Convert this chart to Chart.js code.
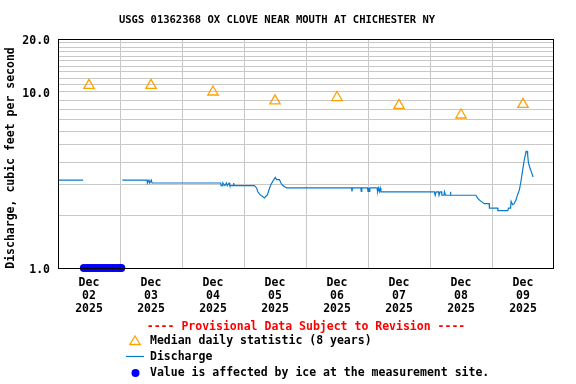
<!DOCTYPE html>
<html>
<head>
<meta charset="utf-8">
<script src="https://cdn.jsdelivr.net/npm/chart.js@4"></script>
<style>
  html, body { margin: 0; padding: 0; background: #fff; }
  canvas { display: block; }
</style>
</head>
<body>
<canvas id="grafico" width="576" height="384"></canvas>
<script>
// Dados (horas desde 02 Dec 2025 00:00)
const tituloGrafico = 'USGS 01362368 OX CLOVE NEAR MOUTH AT CHICHESTER NY';
const diasLabels = ['02', '03', '04', '05', '06', '07', '08', '09'];
const mesLabel = 'Dec';
const anoLabel = '2025';

// Mediana diária (8 anos), uma por dia
const medianas = [10.9, 10.9, 10.0, 8.9, 9.3, 8.4, 7.4, 8.5];

// Vazão (cfs)
const vazaoHoras = [
    0, 9.75, 17, 24.9, 34.5, 34.6, 35.2, 35.5, 36.1, 36.4, 37.0,
    63.0, 63.1, 63.6, 63.8, 64.6, 65.2, 65.5, 66.2, 66.5, 67.8, 68.0, 68.2,
    76.0, 76.9, 77.3, 78.2, 79.2, 79.9, 81.1, 81.7, 82.4, 83.1, 84.1, 84.6, 85.7, 86.3, 87.0, 88.5,
    113.6, 113.8, 114.0, 117.2, 117.4, 117.6, 119.8, 120.0, 120.3, 120.5, 120.7, 123.5, 123.7, 124.0, 124.4, 124.7, 125.0,
    145.7, 146.0, 146.4, 147.3, 147.5, 147.9, 148.5, 148.6, 149.4, 149.6, 150.0, 151.8, 151.9, 152.1,
    161.8, 162.4, 163.0, 163.8, 165.0, 166.9, 167.0, 170.2, 170.3, 174.1, 174.4, 175.2, 175.4, 176.0, 176.6,
    177.3, 177.9, 178.6, 179.2, 179.9, 180.5, 181.2, 181.6, 181.8, 182.1, 182.7, 183.4, 183.9
];
const vazaoValores = [
    3.16, 3.16, null, 3.16, 3.16, 3.04, 3.16, 3.04, 3.16, 3.04, 3.04,
    3.04, 2.94, 2.94, 3.04, 2.94, 3.04, 2.94, 3.04, 2.94, 2.94, 3.04, 2.94,
    2.94, 2.85, 2.72, 2.61, 2.55, 2.50, 2.61, 2.79, 2.97, 3.10, 3.27, 3.18, 3.18, 3.04, 2.94, 2.85,
    2.85, 2.72, 2.85, 2.85, 2.72, 2.85, 2.85, 2.72, 2.85, 2.72, 2.85, 2.85, 2.72, 2.85, 2.72, 2.85, 2.71,
    2.71, 2.59, 2.71, 2.71, 2.59, 2.71, 2.71, 2.59, 2.59, 2.71, 2.59, 2.59, 2.71, 2.59,
    2.59, 2.50, 2.44, 2.39, 2.32, 2.32, 2.19, 2.19, 2.12, 2.12, 2.19, 2.19, 2.39, 2.29, 2.32,
    2.44, 2.61, 2.78, 3.10, 3.62, 4.12, 4.60, 4.60, 4.40, 3.95, 3.70, 3.46, 3.29
];

// Horas com valor afetado por gelo (plotado no limite inferior)
const geloHoras = [10, 11, 12, 13, 14, 15, 16, 17, 18, 19, 20, 21, 22, 23, 24, 24.5];
const geloValor = 1.0;

// Eixo y
const yGrade = [1, 2, 3, 4, 5, 6, 7, 8, 9, 10, 11, 12, 13, 14, 15, 16, 17, 18, 19, 20];
const yRotulos = [1, 10, 20];

const fonteMono = '"DejaVu Sans Mono", "Liberation Mono", monospace';
const corVazao = '#0a7acc';
const corMediana = '#ffa200';
const corGelo = '#0000ff';

// Moldura, títulos e legenda desenhados sobre o canvas
const pluginMoldura = {
    id: 'moldura',
    afterDatasetsDraw(chart) {
        const { ctx, chartArea: a } = chart;
        ctx.save();
        ctx.strokeStyle = '#000';
        ctx.lineWidth = 1;
        ctx.strokeRect(a.left + 0.5, a.top + 0.5, a.right - a.left - 1, a.bottom - a.top);
        ctx.restore();
    },
    afterDraw(chart) {
        const ctx = chart.ctx;
        ctx.save();
        ctx.fillStyle = '#000';
        ctx.textBaseline = 'middle';

        // título
        ctx.textAlign = 'center';
        ctx.font = 'bold 10.5px ' + fonteMono;
        ctx.fillText(tituloGrafico, 277, 20.5);

        ctx.font = 'bold 11.5px ' + fonteMono;
        // título do eixo y
        ctx.save();
        ctx.translate(11.5, 158);
        ctx.rotate(-Math.PI / 2);
        ctx.fillText('Discharge, cubic feet per second', 0, 0);
        ctx.restore();

        // aviso provisório
        ctx.fillStyle = '#ff0000';
        ctx.fillText('---- Provisional Data Subject to Revision ----', 306, 327);

        // legenda
        ctx.textAlign = 'left';
        ctx.fillStyle = '#000';
        ctx.fillText('Median daily statistic (8 years)', 150, 341);
        ctx.fillText('Discharge', 150, 357);
        ctx.fillText('Value is affected by ice at the measurement site.', 150, 373);

        // símbolos
        ctx.strokeStyle = corMediana;
        ctx.lineWidth = 1.3;
        ctx.beginPath();
        ctx.moveTo(135, 336);
        ctx.lineTo(140.2, 344.5);
        ctx.lineTo(129.8, 344.5);
        ctx.closePath();
        ctx.stroke();

        ctx.strokeStyle = corVazao;
        ctx.lineWidth = 1.2;
        ctx.beginPath();
        ctx.moveTo(126, 356.5);
        ctx.lineTo(144, 356.5);
        ctx.stroke();

        ctx.fillStyle = corGelo;
        ctx.beginPath();
        ctx.arc(135.5, 373, 4, 0, Math.PI * 2);
        ctx.fill();
        ctx.restore();
    }
};

function criarGrafico() {
    const ctx = document.getElementById('grafico').getContext('2d');

    const dadosVazao = vazaoHoras.map((h, i) => ({ x: h, y: vazaoValores[i] }));
    const dadosMediana = medianas.map((v, i) => ({ x: i * 24 + 12, y: v }));
    const dadosGelo = geloHoras.map(h => ({ x: h, y: geloValor }));

    new Chart(ctx, {
        type: 'line',
        data: {
            datasets: [
                {
                    label: 'Ice',
                    data: dadosGelo,
                    showLine: false,
                    pointStyle: 'circle',
                    pointRadius: 4,
                    pointBackgroundColor: corGelo,
                    pointBorderWidth: 0,
                    clip: false,
                    order: 0
                },
                {
                    label: 'Median daily statistic (8 years)',
                    data: dadosMediana,
                    showLine: false,
                    pointStyle: 'triangle',
                    pointRadius: 6,
                    pointBorderColor: corMediana,
                    pointBackgroundColor: 'rgba(0,0,0,0)',
                    pointBorderWidth: 1.3,
                    order: 1
                },
                {
                    label: 'Discharge',
                    data: dadosVazao,
                    borderColor: corVazao,
                    borderWidth: 1.2,
                    pointRadius: 0,
                    tension: 0,
                    spanGaps: false,
                    order: 2
                }
            ]
        },
        options: {
            responsive: false,
            animation: false,
            devicePixelRatio: 1,
            layout: {
                padding: { left: 0, right: 22, top: 39, bottom: 0 }
            },
            plugins: {
                legend: { display: false },
                title: { display: false },
                tooltip: { enabled: false }
            },
            scales: {
                x: {
                    type: 'linear',
                    min: 0,
                    max: 192,
                    afterFit: s => { s.height = 116; },
                    afterBuildTicks: s => {
                        const t = [];
                        diasLabels.forEach((d, i) => {
                            t.push({ value: i * 24 });
                            t.push({ value: i * 24 + 12 });
                        });
                        s.ticks = t;
                    },
                    grid: {
                        drawTicks: false,
                        lineWidth: 1,
                        color: c => (c.tick && c.tick.value % 24 === 0) ? '#c8c8c8' : 'rgba(0,0,0,0)'
                    },
                    border: { display: false },
                    ticks: {
                        autoSkip: false,
                        maxRotation: 0,
                        padding: 8.5,
                        color: '#000',
                        font: { family: fonteMono, size: 11.5, weight: 'bold', lineHeight: 1.13 },
                        callback: function (v) {
                            if (v % 24 !== 12) return '';
                            const i = Math.floor(v / 24);
                            return [mesLabel, diasLabels[i], anoLabel];
                        }
                    }
                },
                y: {
                    type: 'logarithmic',
                    min: 1,
                    max: 20,
                    afterFit: s => { s.width = 58; },
                    afterBuildTicks: s => {
                        s.ticks = yGrade.map(v => ({ value: v }));
                    },
                    grid: {
                        drawTicks: false,
                        lineWidth: 1,
                        color: '#c8c8c8'
                    },
                    border: { display: false },
                    ticks: {
                        autoSkip: false,
                        padding: 8,
                        labelOffset: 2.5,
                        color: '#000',
                        font: { family: fonteMono, size: 11.5, weight: 'bold' },
                        callback: function (v) {
                            return yRotulos.includes(v) ? v.toFixed(1) : '';
                        }
                    }
                }
            }
        },
        plugins: [pluginMoldura]
    });
}

criarGrafico();
</script>
</body>
</html>
